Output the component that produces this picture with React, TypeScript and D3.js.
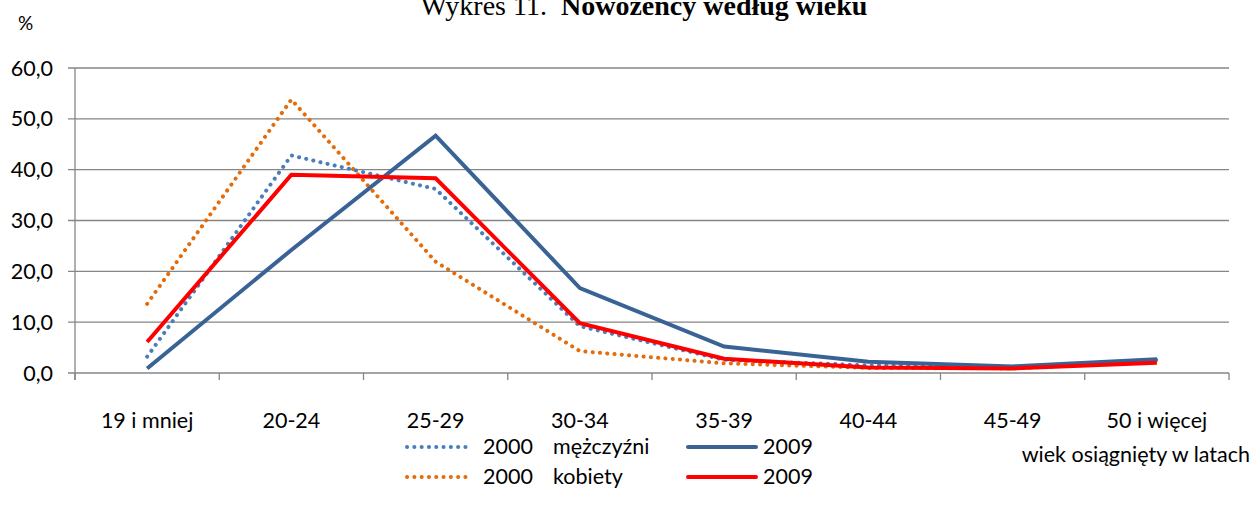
import React from "react";
import * as d3 from "d3";

const categories = ["19 i mniej", "20-24", "25-29", "30-34", "35-39", "40-44", "45-49", "50 i więcej"];
const men2000 = [3.2, 42.8, 36.2, 9.2, 2.6, 1.5, 1.1, 2.6];
const women2000 = [13.6, 53.8, 21.9, 4.3, 1.9, 1.0, 0.9, 2.2];
const men2009 = [0.9, 24.2, 46.7, 16.7, 5.2, 2.2, 1.3, 2.7];
const women2009 = [6.1, 39.0, 38.3, 9.8, 2.8, 1.1, 0.9, 2.0];
const yTicks = [0, 10, 20, 30, 40, 50, 60];

const W = 1253;
const H = 515;
const FONT = "Lato, 'Open Sans', sans-serif";
const FS = 21.5;

export default function App() {
  const x = d3.scaleBand<string>().domain(categories).range([75, 1229]);
  const y = d3.scaleLinear().domain([0, 60]).range([373, 68]);
  const cx = (c: string) => (x(c) as number) + x.bandwidth() / 2;
  const line = (vals: number[]) =>
    d3.line<number>().x((_, i) => cx(categories[i])).y((v) => y(v))(vals) as string;
  const fmt = (v: number) => v.toFixed(1).replace(".", ",");
  const bounds = categories.map((c) => x(c) as number).concat([1229]);
  const dotted = { strokeDasharray: "0.1 7.2", strokeLinecap: "round" as const, strokeWidth: 4, fill: "none" };

  return (
    <svg width={W} height={H} style={{ position: "absolute", left: 0, top: 0, background: "#fff" }}>
      <text x={644} y={15} textAnchor="middle" fontFamily="'Liberation Serif', 'Times New Roman', serif" fontSize={28}>
        <tspan>{"Wykres 11.\u00a0\u00a0"}</tspan>
        <tspan fontWeight="bold">Nowożeńcy według wieku</tspan>
      </text>
      <text x={18} y={30} fontFamily={FONT} fontSize={19}>%</text>
      {yTicks.map((t) => (
        <g key={t}>
          <line x1={68} x2={1229} y1={y(t)} y2={y(t)} stroke="#868686" strokeWidth={1.3} />
          <text x={53} y={y(t) + 7.5} textAnchor="end" fontFamily={FONT} fontSize={FS}>{fmt(t)}</text>
        </g>
      ))}
      <line x1={75} x2={75} y1={68} y2={380} stroke="#868686" strokeWidth={1.3} />
      {bounds.map((b, i) => (
        <line key={i} x1={b} x2={b} y1={373} y2={380} stroke="#868686" strokeWidth={1.3} />
      ))}
      {categories.map((c) => (
        <text key={c} x={cx(c)} y={428} textAnchor="middle" fontFamily={FONT} fontSize={FS}>{c}</text>
      ))}
      <text x={1250} y={462} textAnchor="end" fontFamily={FONT} fontSize={FS}>wiek osiągnięty w latach</text>

      <path d={line(women2000)} stroke="#E46C0A" {...dotted} />
      <path d={line(men2000)} stroke="#4A7EBB" {...dotted} />
      <path d={line(men2009)} stroke="#3A6395" strokeWidth={4} fill="none" />
      <path d={line(women2009)} stroke="#FF0000" strokeWidth={4} fill="none" />

      <g fontFamily={FONT} fontSize={FS}>
        <line x1={407} x2={472} y1={447} y2={447} stroke="#4A7EBB" {...dotted} />
        <text x={483} y={454}>2000</text>
        <text x={553} y={454}>mężczyźni</text>
        <line x1={688} x2={756} y1={447} y2={447} stroke="#3A6395" strokeWidth={4} strokeLinecap="round" />
        <text x={763} y={454}>2009</text>
        <line x1={407} x2={472} y1={477} y2={477} stroke="#E46C0A" {...dotted} />
        <text x={483} y={484}>2000</text>
        <text x={553} y={484}>kobiety</text>
        <line x1={688} x2={756} y1={477} y2={477} stroke="#FF0000" strokeWidth={4} strokeLinecap="round" />
        <text x={763} y={484}>2009</text>
      </g>
    </svg>
  );
}
